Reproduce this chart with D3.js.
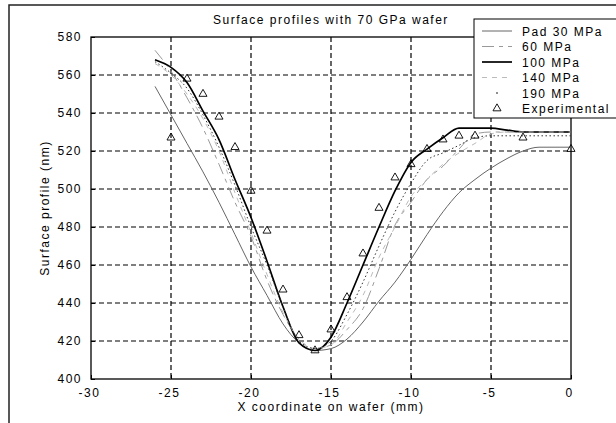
<!DOCTYPE html>
<html><head><meta charset="utf-8">
<script src="https://cdn.jsdelivr.net/npm/d3@7"></script>
<style>
body{margin:0;background:#fff;}
text{font-family:"Liberation Sans",Arial,sans-serif;font-size:12px;letter-spacing:1.5px;fill:#000;}
</style></head>
<body><svg id="c" width="616" height="423"></svg>
<script>
const xs = [-26,-25,-24,-23,-22,-21,-20,-19,-18,-17,-16,-15,-14,-13,-12,-11,-10,-9,-8,-7,-6,-5,-4,-3,-2,-1,0];
const pad30  = [554,539,524,509,493,476,459,444,429,419,415,416,421,430,441,451,463,476,488,498,505,511,516,520,522,522,522];
const pad60  = [573,562,548,532,513,493,475,452,434,421,416,418,426,437,458,481,493,505,512,521,529,530,530,530,530,530,530];
const pad100 = [568,564,556,541,526,505,485,462,438,419,415,422,440,460,480,499,514,521,527,532,532,532,531,530,530,530,530];
const pad140 = [566,560,550,537,520,498,477,455,435,421,416,418,430,444,464,480,496,505,513,519,524,529,530,530,530,530,530];
const pad190 = [567,561,553,539,522,502,480,460,438,420,416,420,434,451,470,488,503,515,519,523,527,528,528,528,528,528,528];
const expX = [-25,-24,-23,-22,-21,-20,-19,-18,-17,-16,-15,-14,-13,-12,-11,-10,-9,-8,-7,-6,-3,0];
const expY = [527,558,550,538,522,499,478,447,423,415,426,443,466,490,506,513,521,526,528,528,527,521];
const xTicks = [-30,-25,-20,-15,-10,-5,0];
const yTicks = [400,420,440,460,480,500,520,540,560,580];
const legendLabels = ["Pad 30 MPa","60 MPa","100 MPa","140 MPa","190 MPa","Experimental"];
const title = "Surface profiles with 70 GPa wafer";
const xLabel = "X coordinate on wafer (mm)";
const yLabel = "Surface profile (nm)";

const svg = d3.select("#c");
const L=91,R=571,T=37,B=379;
const x = d3.scaleLinear().domain([-30,0]).range([L,R]);
const y = d3.scaleLinear().domain([400,580]).range([B,T]);

// outer frame
svg.append("path").attr("d","M9,430 L9,5 L630,5").attr("fill","none").attr("stroke","#222").attr("stroke-width",1.5);

// grid
const g = svg.append("g");
g.selectAll(".vg").data(xTicks.slice(1,-1)).enter().append("line")
 .attr("x1",d=>x(d)).attr("x2",d=>x(d)).attr("y1",T).attr("y2",B)
 .attr("stroke","#000").attr("stroke-width",1.2).attr("stroke-dasharray","5,3");
g.selectAll(".hg").data(yTicks.slice(1,-1)).enter().append("line")
 .attr("y1",d=>y(d)).attr("y2",d=>y(d)).attr("x1",L).attr("x2",R)
 .attr("stroke","#000").attr("stroke-width",1.2).attr("stroke-dasharray","5,3");

// axes
const fmt = d => String(d);
const xa = svg.append("g").attr("transform",`translate(0,${B})`)
 .call(d3.axisBottom(x).tickValues(xTicks).tickSize(-4).tickPadding(9).tickFormat(fmt));
const ya = svg.append("g").attr("transform",`translate(${L},0)`)
 .call(d3.axisLeft(y).tickValues(yTicks).tickSize(-4).tickPadding(9).tickFormat(fmt));
[xa,ya].forEach(a=>{a.select(".domain").remove();a.selectAll("line").attr("stroke","#000");
 a.selectAll("text").style("font-size","12px").style("font-family","Liberation Sans, Arial, sans-serif");});
xa.selectAll("text").attr("dx","-2");
svg.append("rect").attr("x",L).attr("y",T).attr("width",R-L).attr("height",B-T)
 .attr("fill","none").attr("stroke","#000").attr("stroke-width",1.3);

// curves
const line = d3.line().x((d,i)=>x(xs[i])).y(d=>y(d)).curve(d3.curveMonotoneX);
const styles = [
 {data:pad30, stroke:"#666", w:1, dash:null},
 {data:pad60, stroke:"#999", w:1, dash:"12,5,4,5"},
 {data:pad100,stroke:"#000", w:1.7, dash:null},
 {data:pad140,stroke:"#bbb", w:1, dash:"5,5"},
 {data:pad190,stroke:"#333", w:1, dash:"1.5,2.5"}
];
styles.forEach(s=>{
 svg.append("path").attr("d",line(s.data)).attr("fill","none")
  .attr("stroke",s.stroke).attr("stroke-width",s.w).attr("stroke-dasharray",s.dash);
});
const tri = d3.symbol().type(d3.symbolTriangle).size(28);
svg.selectAll(".exp").data(expX).enter().append("path")
 .attr("transform",(d,i)=>`translate(${x(d)},${y(expY[i])})`).attr("d",tri)
 .attr("fill","none").attr("stroke","#000").attr("stroke-width",0.9);

// labels
svg.append("text").attr("x",(L+R)/2).attr("y",24).attr("text-anchor","middle").text(title);
svg.append("text").attr("x",(L+R)/2).attr("y",411).attr("text-anchor","middle").text(xLabel);
svg.append("text").attr("transform",`translate(49,${(T+B)/2}) rotate(-90)`).attr("text-anchor","middle").text(yLabel);

// legend
const lg = svg.append("g");
lg.append("rect").attr("x",474).attr("y",19).attr("width",160).attr("height",99)
 .attr("fill","#fff").attr("stroke","#000").attr("stroke-width",1);
legendLabels.forEach((lab,i)=>{
 const cy = 31 + i*15.5;
 if(i<5){
  const s = styles[i];
  if(i===4){
   lg.append("circle").attr("cx",497).attr("cy",cy).attr("r",0.8).attr("fill","#000");
  } else {
   lg.append("line").attr("x1",482).attr("x2",512).attr("y1",cy).attr("y2",cy)
    .attr("stroke",s.stroke).attr("stroke-width",s.w).attr("stroke-dasharray",s.dash);
  }
 } else {
  lg.append("path").attr("transform",`translate(497,${cy})`).attr("d",tri)
   .attr("fill","none").attr("stroke","#000").attr("stroke-width",0.9);
 }
 lg.append("text").attr("x",522).attr("y",cy+4.5).text(lab);
});
</script></body></html>
